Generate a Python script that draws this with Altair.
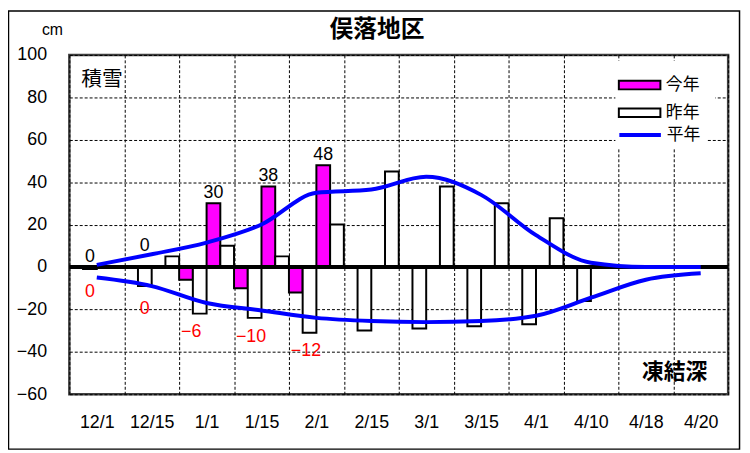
import altair as alt
import pandas as pd

FONT = "Noto Sans CJK JP"
NUMFONT = "Liberation Sans"

# ---- data ----
dates = ["12/1", "12/15", "1/1", "1/15", "2/1", "2/15", "3/1", "3/15", "4/1", "4/10", "4/18", "4/20"]
snow_this = [0, 0, 30, 38, 48, None, None, None, None, None, None, None]
frost_this = [0, 0, -6, -10, -12, None, None, None, None, None, None, None]
snow_last = [0, 5, 10, 5, 20, 45, 38, 30, 23, None, None, None]
frost_last = [-1, -9, -22, -24, -31, -30, -29, -28, -27, -16, None, None]
snow_normal = [1, 6, 11.5, 20, 35, 36.5, 42.5, 34, 15, 2, 0, 0]
frost_normal = [-5, -9, -17, -20.5, -24, -25.5, -26, -25.5, -23, -14.5, -6, -3]

bar_series = ["今年", "昨年"]
bar_colors = ["#ff00ff", "#ffffff"]
line_series = ["平年"]
line_colors = ["#0000ff"]
slots = ["凍結今年", "凍結昨年", "積雪今年", "積雪昨年"]
y_ticks = [-60, -40, -20, 0, 20, 40, 60, 80, 100]

# ---- tables ----
bar_rows = []
for i, d in enumerate(dates):
    for kind, series, arr in [("凍結", "今年", frost_this), ("凍結", "昨年", frost_last),
                              ("積雪", "今年", snow_this), ("積雪", "昨年", snow_last)]:
        if arr[i] is not None:
            bar_rows.append({"date": d, "kind": kind, "series": series,
                             "slot": kind + series, "value": arr[i]})
bars_df = pd.DataFrame(bar_rows)

line_rows = []
for kind, arr in [("積雪", snow_normal), ("凍結", frost_normal)]:
    for d, v in zip(dates, arr):
        line_rows.append({"date": d, "kind": kind, "series": "平年", "value": v})
lines_df = pd.DataFrame(line_rows)

# ---- shared encodings ----
x_axis = alt.Axis(title=None, tickBand="extent", grid=True, gridColor="black",
                  gridDash=[3, 2], gridWidth=1, ticks=False, domain=False,
                  labelAngle=0, labelFontSize=18, labelFont=NUMFONT,
                  labelColor="black", labelPadding=20)
x_scale = alt.Scale(domain=dates, paddingInner=0, paddingOuter=0)
y_axis = alt.Axis(title=None, values=y_ticks, grid=True, gridColor="black",
                  gridDash=[3, 2], gridWidth=1, ticks=False, domain=False,
                  labelFontSize=18, labelFont=NUMFONT, labelColor="black",
                  labelPadding=23)
y_scale = alt.Scale(domain=[-60, 100], nice=False, zero=False)
off_scale = alt.Scale(domain=slots, paddingInner=0, paddingOuter=0)

X = alt.X("date:N", sort=dates, scale=x_scale, axis=x_axis)

RECT_PATH = "M-3,-0.62L3,-0.62L3,0.62L-3,0.62Z"
LINE_PATH = "M-3,0L3,0"

fill_legend = alt.Legend(
    title=None, orient="none", legendX=552, legendY=6, padding=16,
    fillColor="white", symbolSize=196, symbolType=RECT_PATH,
    labelOffset=18, labelFontSize=17, labelFont=FONT, labelColor="black",
    rowPadding=10, symbolStrokeWidth=2, symbolStrokeColor="black",
    symbolOpacity=1,
)
stroke_legend = alt.Legend(
    title=None, orient="none", legendX=552, legendY=66, padding=6,
    fillColor="white", symbolSize=196, symbolType=LINE_PATH, symbolOffset=10,
    labelOffset=18, labelFontSize=17, labelFont=FONT, labelColor="black",
    symbolStrokeWidth=4, symbolOpacity=1,
)

# ---- layers ----
frame = alt.Chart(alt.Data(values=[{}])).mark_rect(
    filled=False, stroke="black", strokeWidth=1.5
).encode(x=alt.value(-61.5), x2=alt.value(677.5), y=alt.value(-44.5), y2=alt.value(398.5))

bars = alt.Chart(bars_df).mark_bar(stroke="black", strokeWidth=2, opacity=1).encode(
    x=X,
    xOffset=alt.XOffset("slot:N", scale=off_scale),
    y=alt.Y("value:Q", scale=y_scale, axis=y_axis),
    fill=alt.Fill("series:N", scale=alt.Scale(domain=bar_series, range=bar_colors),
                  legend=fill_legend),
)

zero = alt.Chart(alt.Data(values=[{"v": 0}])).mark_rule(
    color="black", strokeWidth=4
).encode(y=alt.Y("v:Q", scale=y_scale, axis=y_axis))

lines = alt.Chart(lines_df).mark_line(strokeWidth=4, interpolate="monotone").encode(
    x=X,
    y=alt.Y("value:Q", scale=y_scale, axis=y_axis),
    stroke=alt.Stroke("series:N", scale=alt.Scale(domain=line_series, range=line_colors),
                      legend=stroke_legend),
    detail="kind:N",
)

lab_base = alt.Chart(bars_df).transform_joinaggregate(
    ymax="max(value)", ymin="min(value)", groupby=["date", "kind"]
).transform_filter("datum.series === '今年'")

snow_lab = lab_base.transform_filter("datum.kind === '積雪'").transform_calculate(
    lslot="datum.value === 0 ? '凍結昨年' : '積雪今年'"
).mark_text(baseline="alphabetic", dy=-5, fontSize=18, font=NUMFONT, color="black").encode(
    x=X,
    xOffset=alt.XOffset("lslot:N", scale=off_scale),
    y=alt.Y("ymax:Q", scale=y_scale, axis=y_axis),
    text=alt.Text("value:Q", format="d"),
)

frost_lab_nz = lab_base.transform_filter(
    "datum.kind === '凍結' && datum.value !== 0"
).transform_calculate(lslot="'凍結今年'").mark_text(
    baseline="top", align="left", dx=-5, dy=10, fontSize=18, font=NUMFONT, color="#ff0000"
).encode(
    x=X,
    xOffset=alt.XOffset("lslot:N", scale=off_scale),
    y=alt.Y("ymin:Q", scale=y_scale, axis=y_axis),
    text=alt.Text("value:Q", format="d"),
)

frost_lab_z = lab_base.transform_filter(
    "datum.kind === '凍結' && datum.value === 0"
).transform_calculate(lslot="'凍結昨年'").mark_text(
    baseline="top", align="center", dy=14, fontSize=18, font=NUMFONT, color="#ff0000"
).encode(
    x=X,
    xOffset=alt.XOffset("lslot:N", scale=off_scale),
    y=alt.Y("ymin:Q", scale=y_scale, axis=y_axis),
    text=alt.Text("value:Q", format="d"),
)

one = alt.Data(values=[{}])
title_t = alt.Chart(one).mark_text(text="俣落地区", fontSize=24, fontWeight="bold",
                                   font=FONT, color="black", baseline="middle").encode(
    x=alt.value(311), y=alt.value(-25))
cm_t = alt.Chart(one).mark_text(text="cm", fontSize=16, font=NUMFONT, color="black",
                                baseline="middle").encode(x=alt.value(-17), y=alt.value(-25))
snow_t = alt.Chart(one).mark_text(text="積雪", fontSize=21, font=FONT, color="black",
                                  baseline="middle").encode(x=alt.value(33), y=alt.value(25))
frost_t = alt.Chart(one).mark_text(text="凍結深", fontSize=22, fontWeight="bold", font=FONT,
                                   color="black", baseline="middle").encode(
    x=alt.value(612), y=alt.value(321))

chart = alt.layer(
    frame, bars, zero, lines, snow_lab, frost_lab_nz, frost_lab_z,
    title_t, cm_t, snow_t, frost_t
).resolve_legend(fill="independent", stroke="independent").properties(
    width=666, height=343,
    padding={"left": 62, "top": 45, "right": 14, "bottom": 57},
    autosize=alt.AutoSizeParams(type="none"),
    background="white",
).configure_view(stroke="#404040", strokeWidth=2.5)

chart.save("out.html", embed_options={"renderer": "svg", "actions": False})
